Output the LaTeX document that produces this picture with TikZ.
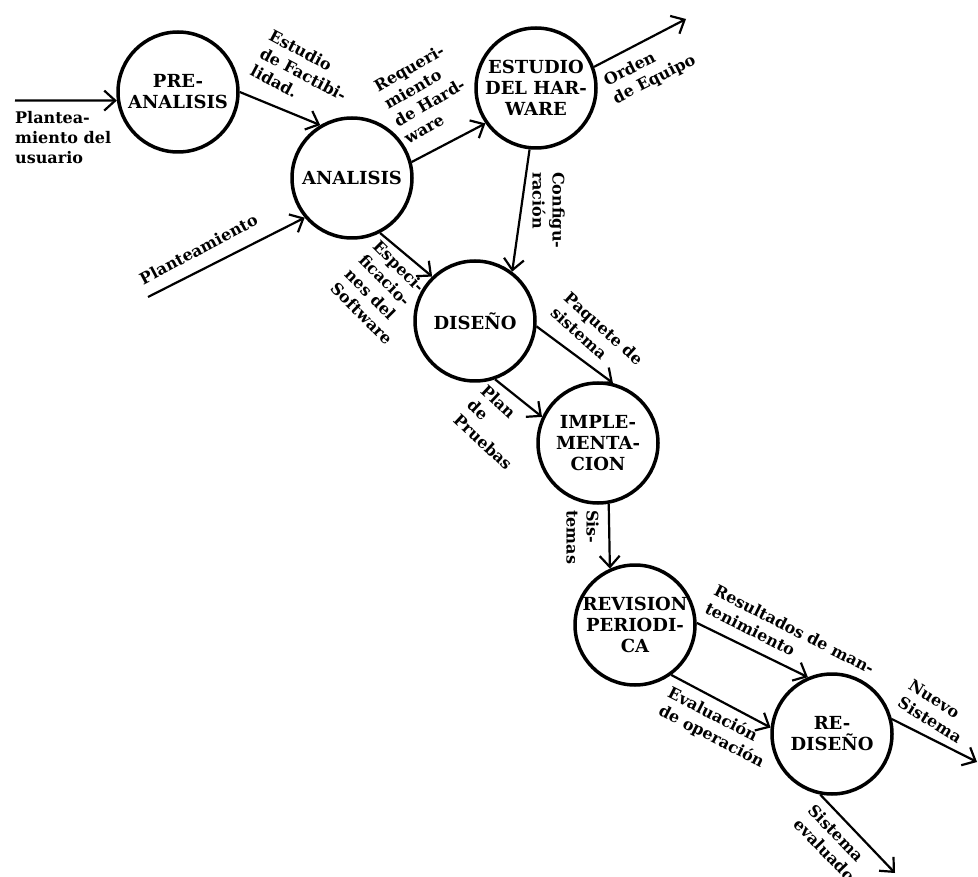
\documentclass[tikz,border=0pt]{standalone}
\usepackage{fontspec}
\setmainfont{DejaVu Serif}
\usetikzlibrary{arrows.meta}
\begin{document}
\begin{tikzpicture}[x=1pt,y=-1pt,
  proc/.style={circle, draw, line width=3.5pt, minimum size=120pt, inner sep=0pt},
  ptext/.style={font=\fontsize{18}{21}\selectfont\bfseries, align=center, inner sep=0pt},
  flow/.style={line width=2.2pt, -{Straight Barb[length=11pt,width=20pt]}},
  lbl/.style={font=\fontsize{16}{20}\selectfont\bfseries, align=left, inner sep=0pt, anchor=north west}]
\useasboundingbox (0,0) rectangle (978,877);
% processes
\node[proc, label={[ptext]center:{PRE-\\ANALISIS}}] (pre) at (178,92) {};
\node[proc, label={[ptext]center:{ANALISIS}}] (ana) at (352,178) {};
\node[proc, label={[ptext]center:{ESTUDIO\\DEL HAR-\\WARE}}] (est) at (536,88) {};
\node[proc, label={[ptext]center:{DISEÑO}}] (dis) at (475,321) {};
\node[proc, label={[ptext]center:{IMPLE-\\MENTA-\\CION}}] (imp) at (598,443) {};
\node[proc, label={[ptext]center:{REVISION\\PERIODI-\\CA}}] (rev) at (635,625) {};
\node[proc, label={[ptext]center:{RE-\\DISEÑO}}] (red) at (832,734) {};
% free ends
\coordinate (in1) at (15,100.5);
\coordinate (pl) at (148,297);
\coordinate (oe) at (686,19);
\coordinate (ns) at (977,762);
\coordinate (se) at (895,873);
% flows
\draw[flow] (in1) -- (pre.188);
\draw[flow] (pre.0) -- (ana.121);
\draw[flow] (pl) -- (ana.220);
\draw[flow] (ana.15) -- (est.215);
\draw[flow] (est.20) -- (oe);
\draw[flow] (est.-96) -- (dis.53);
\draw[flow] (ana.-63) -- (dis.134);
\draw[flow] (dis.-5) -- (imp.76);
\draw[flow] (dis.-71) -- (imp.155);
\draw[flow] (imp.-80) -- (rev.114);
\draw[flow] (rev.2) -- (red.113);
\draw[flow] (rev.-54) -- (red.174);
\draw[flow] (red.14) -- (ns);
\draw[flow] (red.-101) -- (se);
% labels
\node[lbl] (t1) at (15,111) {Plantea-\\miento del\\usuario};
\node[lbl, rotate=-28] (t2) at (273.6,28.4) {Estudio\\de Factibi-\\lidad.};
\node[lbl, rotate=30] (t3) at (372,82) {Requeri-\\miento\\de Hard-\\ware};
\node[lbl, rotate=27] (t4) at (601.6,75.3) {Orden\\de Equipo};
\node[lbl, rotate=-90] (t5) at (565,172) {Configu-\\ración};
\node[lbl, rotate=28] (t6) at (137.4,274.4) {Planteamiento};
\node[lbl, rotate=-45] (t7) at (380.5,238.5) {Especi-\\ficacio-\\nes del\\Software};
\node[lbl, rotate=-42] (t8) at (571,290) {Paquete de\\sistema};
\node[lbl, rotate=-43] (t9) at (488,383) {Plan\\de\\Pruebas};
\node[lbl, rotate=-90] (t10) at (599,510) {Sis-\\temas};
\node[lbl, rotate=-27] (t11) at (718.4,583.3) {Resultados de man-\\tenimiento};
\node[lbl, rotate=-27] (t12) at (672.4,685.3) {Evaluación\\de operación};
\node[lbl, rotate=-32] (t13) at (913.4,678.8) {Nuevo\\Sistema};
\node[lbl, rotate=-46] (t14) at (815.6,802.7) {Sistema\\evaluado};
\end{tikzpicture}
\end{document}
